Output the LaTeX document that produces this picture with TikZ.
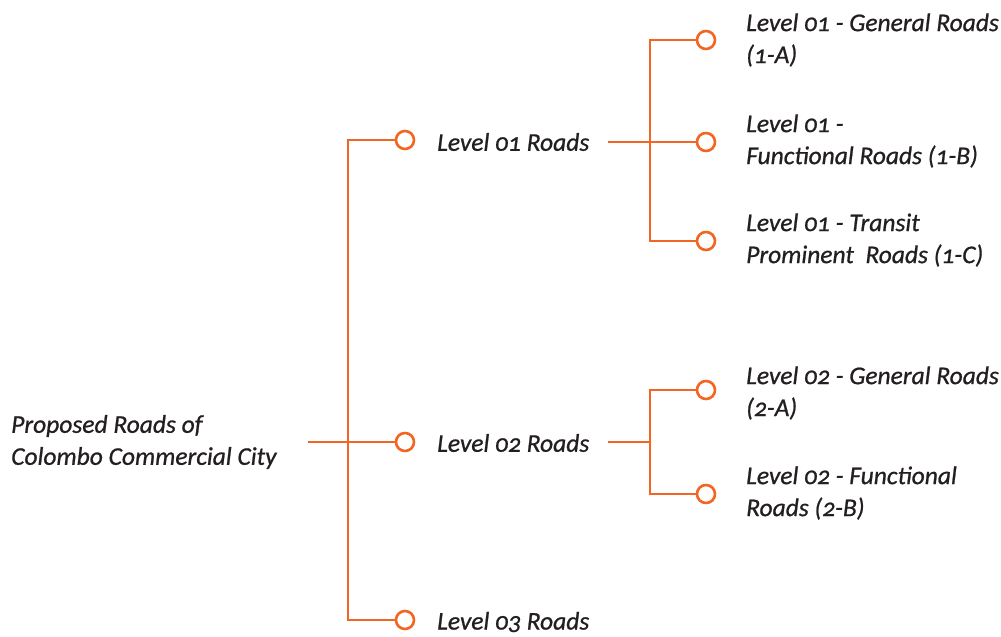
\documentclass[tikz,border=0pt]{standalone}
\usepackage{fontspec}
\setmainfont{Carlito}[Numbers=OldStyle, ItalicFeatures={FakeBold=0.8}]
\definecolor{road}{HTML}{F26522}
\definecolor{ink}{HTML}{231F20}
\tikzset{
  dot/.style={circle, draw=road, fill=white, line width=2.6pt, minimum size=18pt, inner sep=0pt, outer sep=0pt},
  lbl/.style={anchor=west, align=left, inner sep=0pt, text=ink, font=\fontsize{25.5}{32}\selectfont\itshape},
  link/.style={draw=road, line width=2.6pt}
}
\begin{document}
\begin{tikzpicture}[x=1pt, y=-1pt]
\useasboundingbox (0,0) rectangle (1001,637);
% root
\node[lbl] (root) at (11,442) {Proposed Roads of\\Colombo Commercial City};
\coordinate (s0) at (308,442);
\coordinate (t0) at (348,442);
% level nodes
\node[dot] (c1) at (405,140) {};
\node[dot] (c2) at (405,442) {};
\node[dot] (c3) at (405,620) {};
\node[lbl] (l1) at (437,142) {Level 01 Roads};
\node[lbl] (l2) at (437,443) {Level 02 Roads};
\node[lbl] (l3) at (437,622) {Level 03 Roads};
% level 1 children
\coordinate (s1) at (608,142);
\coordinate (t1) at (650,142);
\node[dot] (a1) at (706,40) {};
\node[dot] (a2) at (706,142) {};
\node[dot] (a3) at (706,241) {};
\node[lbl] (la1) at (746,40) {Level 01 - General Roads\\(1-A)};
\node[lbl] (la2) at (746,141) {Level 01 -\\Functional Roads (1-B)};
\node[lbl] (la3) at (746,240) {Level 01 - Transit\\Prominent\ \ Roads (1-C)};
% level 2 children
\coordinate (s2) at (608,442);
\coordinate (t2) at (650,442);
\node[dot] (b1) at (706,390) {};
\node[dot] (b2) at (706,494) {};
\node[lbl] (lb1) at (746,393) {Level 02 - General Roads\\(2-A)};
\node[lbl] (lb2) at (746,493) {Level 02 - Functional\\Roads (2-B)};
% connectors
\draw[link] (s0) -- (t0);
\draw[link] (c1.west) -| (t0) |- (c3.west);
\draw[link] (t0) -- (c2.west);
\draw[link] (s1) -- (a2.west);
\draw[link] (a1.west) -| (t1) |- (a3.west);
\draw[link] (s2) -- (t2);
\draw[link] (b1.west) -| (t2) |- (b2.west);
\end{tikzpicture}
\end{document}
